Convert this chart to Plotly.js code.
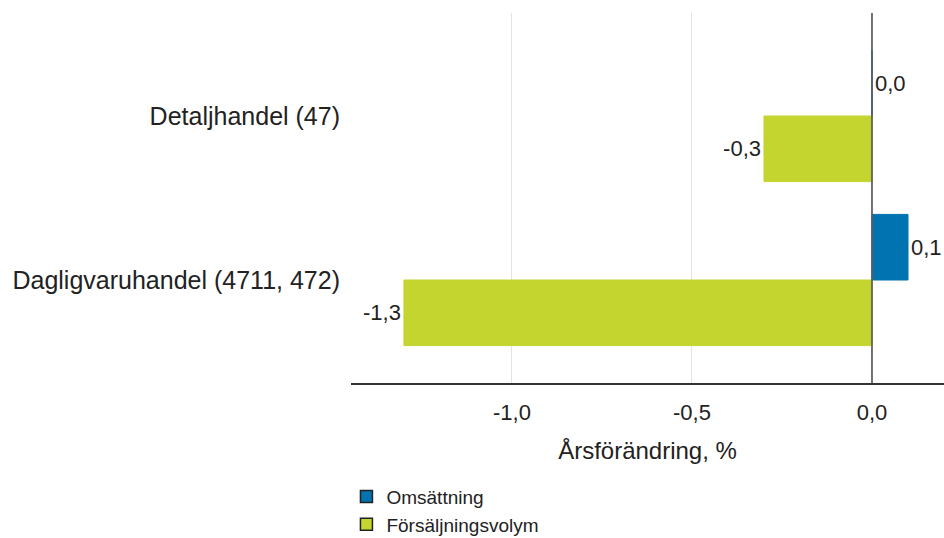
<!DOCTYPE html>
<html>
<head>
<meta charset="utf-8">
<script src="https://cdn.plot.ly/plotly-3.0.1.min.js"></script>
<style>html,body{margin:0;padding:0;background:#fff;}#chart{width:944px;height:538px;}</style>
</head>
<body>
<div id="chart"></div>
<script>
const categories = ["Detaljhandel (47)", "Dagligvaruhandel (4711, 472)"];
const seriesNames = ["Omsättning", "Försäljningsvolym"];
const seriesColors = ["#0073b0", "#c3d52e"];
const omsattning = [0.0, 0.1];
const forsaljningsvolym = [-0.3, -1.3];
const tickValues = [-1.0, -0.5, 0.0];

const fmt = v => (v < 0 ? "-" : "") + Math.abs(v).toFixed(1).replace(".", ",");
const FONT = '"Liberation Sans", Arial, sans-serif';
const TXT = "#222222";

function barTrace(name, values, color) {
  return {
    type: "bar", orientation: "h", name: name, showlegend: false,
    y: categories, x: values,
    text: values.map(fmt), textposition: "outside", cliponaxis: false,
    textfont: {family: FONT, size: 22, color: TXT},
    marker: {color: color, line: {color: color, width: 1}},
    hoverinfo: "x"
  };
}
function legendTrace(name, color) {
  return {
    type: "scatter", mode: "markers", name: name, showlegend: true,
    x: [null], y: [null],
    marker: {symbol: "square", size: 12, color: color, line: {color: "#222222", width: 1.5}},
    hoverinfo: "skip"
  };
}

const traces = [
  barTrace(seriesNames[0], omsattning, seriesColors[0]),
  barTrace(seriesNames[1], forsaljningsvolym, seriesColors[1]),
  legendTrace(seriesNames[0], seriesColors[0]),
  legendTrace(seriesNames[1], seriesColors[1])
];

const layout = {
  width: 944, height: 538,
  margin: {l: 351, r: 0, t: 13, b: 155, autoexpand: false},
  paper_bgcolor: "#fff", plot_bgcolor: "#fff",
  font: {family: FONT, size: 16, color: TXT},
  barmode: "group", bargap: 0.2, bargroupgap: 0,
  showlegend: true,
  legend: {
    orientation: "v", xref: "container", yref: "container",
    x: 0.367, xanchor: "left", y: 0.112, yanchor: "top",
    font: {family: FONT, size: 19, color: TXT},
    traceorder: "normal", itemwidth: 30, tracegroupgap: 0
  },
  xaxis: {
    range: [-1.447, 0.2],
    tickvals: tickValues, ticktext: tickValues.map(fmt),
    tickfont: {family: FONT, size: 22, color: TXT},
    showgrid: true, gridcolor: "#e3e3e3", gridwidth: 1,
    zeroline: false,
    showline: true, linecolor: "#333333", linewidth: 2,
    ticks: "", ticklen: 0, ticklabelstandoff: 9,
    title: {text: "Årsförändring, %", font: {family: FONT, size: 24, color: TXT}, standoff: 18},
    fixedrange: true
  },
  yaxis: {
    type: "category",
    range: [1.628, -0.628],
    tickfont: {family: FONT, size: 25, color: TXT},
    showgrid: false, zeroline: false, showline: false,
    ticks: "", ticklabelstandoff: 10,
    fixedrange: true
  },
  shapes: [{
    type: "line", xref: "x", yref: "paper", x0: 0, x1: 0, y0: 0, y1: 1,
    line: {color: "rgba(90,90,90,0.85)", width: 2}, layer: "above"
  }]
};

Plotly.newPlot("chart", traces, layout, {displayModeBar: false, staticPlot: true});
</script>
</body>
</html>
